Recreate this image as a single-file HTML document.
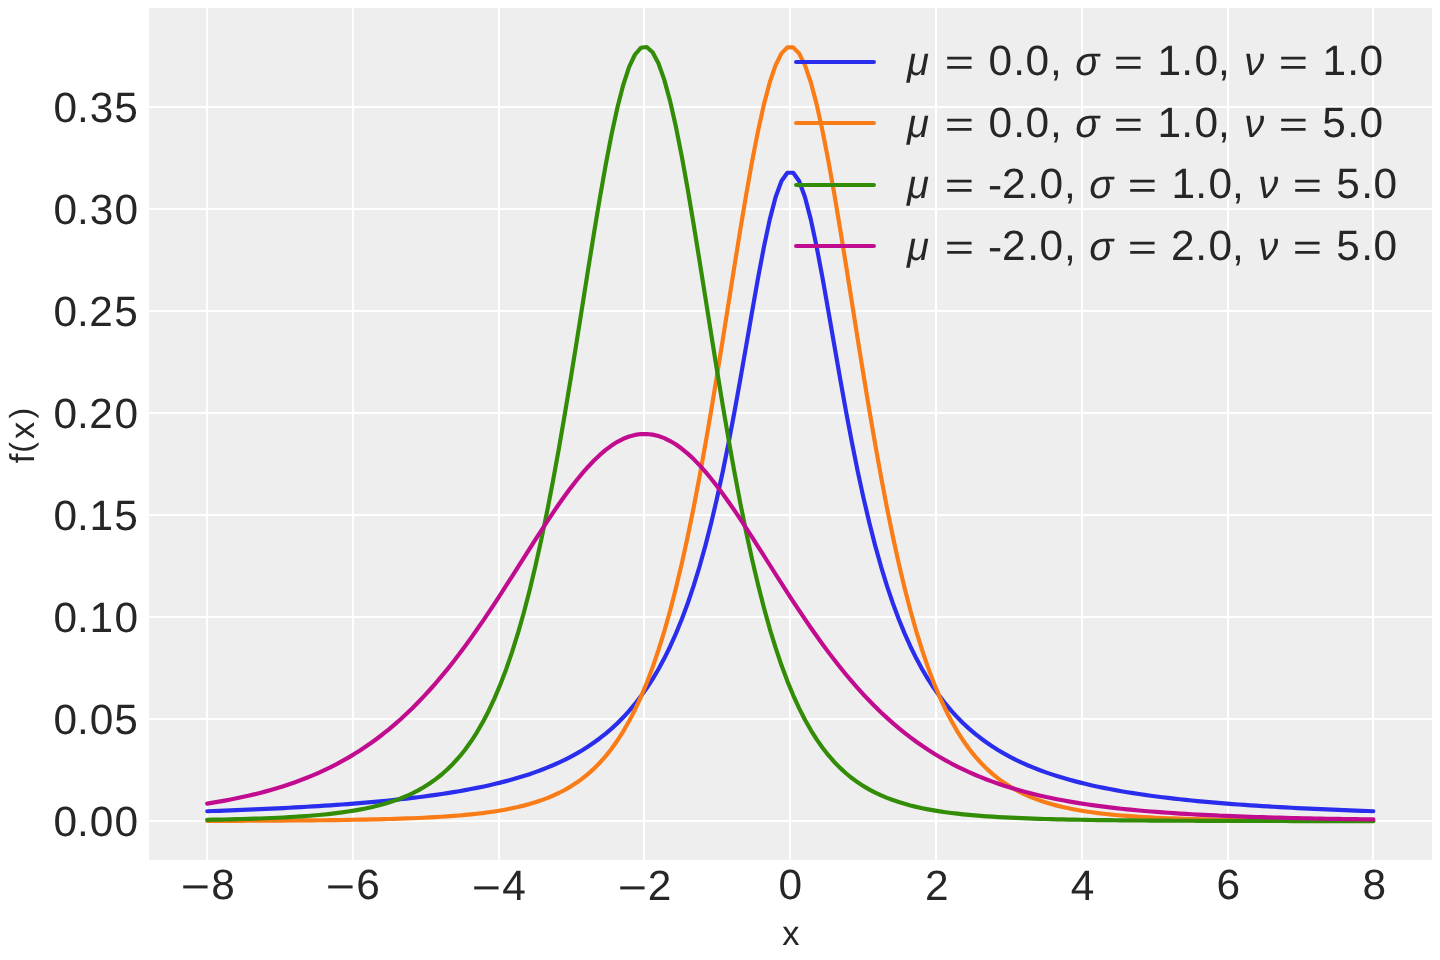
<!DOCTYPE html>
<html><head><meta charset="utf-8"><title>Student-t distribution PDFs</title>
<style>
html,body{margin:0;padding:0;background:#fff;width:1440px;height:960px;overflow:hidden}
svg{display:block;will-change:transform}
text{font-family:"Liberation Sans",sans-serif;fill:#262626;font-kerning:none;text-rendering:geometricPrecision}
</style></head><body>
<svg width="1440" height="960" viewBox="0 0 1440 960">
<rect x="149" y="8" width="1283" height="852" fill="#eeeeee"/>
<g fill="#ffffff"><rect x="206" y="8" width="2" height="852"/><rect x="352" y="8" width="2" height="852"/><rect x="498" y="8" width="2" height="852"/><rect x="643" y="8" width="2" height="852"/><rect x="789" y="8" width="2" height="852"/><rect x="935" y="8" width="2" height="852"/><rect x="1081" y="8" width="2" height="852"/><rect x="1227" y="8" width="2" height="852"/><rect x="1372" y="8" width="2" height="852"/><rect x="149" y="106" width="1283" height="2"/><rect x="149" y="208" width="1283" height="2"/><rect x="149" y="310" width="1283" height="2"/><rect x="149" y="412" width="1283" height="2"/><rect x="149" y="514" width="1283" height="2"/><rect x="149" y="616" width="1283" height="2"/><rect x="149" y="718" width="1283" height="2"/><rect x="149" y="820" width="1283" height="2"/></g>
<g fill="none" stroke-width="4.1667" stroke-linecap="round" stroke-linejoin="round">
<polyline stroke="#2a2eec" points="207.22,811.22 213.08,811.02 218.94,810.81 224.80,810.60 230.66,810.38 236.52,810.15 242.38,809.92 248.24,809.68 254.10,809.43 259.96,809.17 265.82,808.91 271.68,808.63 277.54,808.35 283.40,808.06 289.26,807.75 295.12,807.44 300.98,807.11 306.84,806.78 312.70,806.43 318.56,806.07 324.42,805.69 330.28,805.31 336.14,804.90 342.00,804.49 347.86,804.05 353.72,803.60 359.58,803.13 365.44,802.64 371.30,802.14 377.16,801.61 383.02,801.06 388.88,800.48 394.74,799.88 400.60,799.26 406.46,798.61 412.32,797.93 418.18,797.21 424.04,796.47 429.90,795.69 435.76,794.87 441.62,794.02 447.48,793.12 453.34,792.18 459.20,791.19 465.06,790.15 470.92,789.06 476.78,787.91 482.64,786.70 488.50,785.42 494.36,784.07 500.22,782.64 506.08,781.13 511.94,779.54 517.80,777.85 523.66,776.05 529.52,774.15 535.38,772.13 541.24,769.97 547.10,767.68 552.96,765.24 558.82,762.62 564.68,759.83 570.54,756.84 576.40,753.64 582.26,750.20 588.12,746.51 593.98,742.53 599.84,738.24 605.70,733.61 611.56,728.60 617.42,723.18 623.28,717.30 629.14,710.91 635.00,703.96 640.86,696.39 646.72,688.12 652.58,679.09 658.44,669.19 664.30,658.35 670.16,646.46 676.02,633.39 681.88,619.03 687.74,603.23 693.60,585.88 699.46,566.81 705.32,545.89 711.18,523.01 717.04,498.08 722.90,471.05 728.76,441.98 734.62,411.01 740.48,378.48 746.34,344.90 752.20,311.04 758.06,277.93 763.92,246.88 769.78,219.35 775.64,196.92 781.50,181.01 787.36,172.74 793.22,172.74 799.08,181.01 804.94,196.92 810.80,219.35 816.66,246.88 822.52,277.93 828.38,311.04 834.24,344.90 840.10,378.48 845.96,411.01 851.82,441.98 857.68,471.05 863.54,498.08 869.40,523.01 875.26,545.89 881.12,566.81 886.98,585.88 892.84,603.23 898.70,619.03 904.56,633.39 910.42,646.46 916.28,658.35 922.14,669.19 928.00,679.09 933.86,688.12 939.72,696.39 945.58,703.96 951.44,710.91 957.30,717.30 963.16,723.18 969.02,728.60 974.88,733.61 980.74,738.24 986.60,742.53 992.46,746.51 998.32,750.20 1004.18,753.64 1010.04,756.84 1015.90,759.83 1021.76,762.62 1027.62,765.24 1033.48,767.68 1039.34,769.97 1045.20,772.13 1051.06,774.15 1056.92,776.05 1062.78,777.85 1068.64,779.54 1074.50,781.13 1080.36,782.64 1086.22,784.07 1092.08,785.42 1097.94,786.70 1103.80,787.91 1109.66,789.06 1115.52,790.15 1121.38,791.19 1127.24,792.18 1133.10,793.12 1138.96,794.02 1144.82,794.87 1150.68,795.69 1156.54,796.47 1162.40,797.21 1168.26,797.93 1174.12,798.61 1179.98,799.26 1185.84,799.88 1191.70,800.48 1197.56,801.06 1203.42,801.61 1209.28,802.14 1215.14,802.64 1221.00,803.13 1226.86,803.60 1232.72,804.05 1238.58,804.49 1244.44,804.90 1250.30,805.31 1256.16,805.69 1262.02,806.07 1267.88,806.43 1273.74,806.78 1279.60,807.11 1285.46,807.44 1291.32,807.75 1297.18,808.06 1303.04,808.35 1308.90,808.63 1314.76,808.91 1320.62,809.17 1326.48,809.43 1332.34,809.68 1338.20,809.92 1344.06,810.15 1349.92,810.38 1355.78,810.60 1361.64,810.81 1367.50,811.02 1373.36,811.22"/>
<polyline stroke="#fa7c17" points="207.22,820.92 213.08,820.90 218.94,820.88 224.80,820.86 230.66,820.84 236.52,820.82 242.38,820.80 248.24,820.77 254.10,820.74 259.96,820.71 265.82,820.68 271.68,820.65 277.54,820.61 283.40,820.57 289.26,820.53 295.12,820.49 300.98,820.44 306.84,820.39 312.70,820.33 318.56,820.27 324.42,820.21 330.28,820.14 336.14,820.06 342.00,819.98 347.86,819.89 353.72,819.79 359.58,819.69 365.44,819.58 371.30,819.45 377.16,819.32 383.02,819.17 388.88,819.02 394.74,818.84 400.60,818.66 406.46,818.45 412.32,818.23 418.18,817.98 424.04,817.71 429.90,817.42 435.76,817.10 441.62,816.75 447.48,816.36 453.34,815.93 459.20,815.47 465.06,814.95 470.92,814.38 476.78,813.75 482.64,813.06 488.50,812.30 494.36,811.45 500.22,810.51 506.08,809.48 511.94,808.32 517.80,807.05 523.66,805.63 529.52,804.05 535.38,802.29 541.24,800.33 547.10,798.15 552.96,795.72 558.82,793.01 564.68,789.98 570.54,786.60 576.40,782.82 582.26,778.60 588.12,773.88 593.98,768.60 599.84,762.70 605.70,756.10 611.56,748.74 617.42,740.50 623.28,731.32 629.14,721.08 635.00,709.68 640.86,697.01 646.72,682.95 652.58,667.38 658.44,650.19 664.30,631.26 670.16,610.50 676.02,587.81 681.88,563.14 687.74,536.46 693.60,507.77 699.46,477.14 705.32,444.69 711.18,410.62 717.04,375.20 722.90,338.80 728.76,301.86 734.62,264.94 740.48,228.66 746.34,193.72 752.20,160.85 758.06,130.83 763.92,104.40 769.78,82.28 775.64,65.09 781.50,53.34 787.36,47.37 793.22,47.37 799.08,53.34 804.94,65.09 810.80,82.28 816.66,104.40 822.52,130.83 828.38,160.85 834.24,193.72 840.10,228.66 845.96,264.94 851.82,301.86 857.68,338.80 863.54,375.20 869.40,410.62 875.26,444.69 881.12,477.14 886.98,507.77 892.84,536.46 898.70,563.14 904.56,587.81 910.42,610.50 916.28,631.26 922.14,650.19 928.00,667.38 933.86,682.95 939.72,697.01 945.58,709.68 951.44,721.08 957.30,731.32 963.16,740.50 969.02,748.74 974.88,756.10 980.74,762.70 986.60,768.60 992.46,773.88 998.32,778.60 1004.18,782.82 1010.04,786.60 1015.90,789.98 1021.76,793.01 1027.62,795.72 1033.48,798.15 1039.34,800.33 1045.20,802.29 1051.06,804.05 1056.92,805.63 1062.78,807.05 1068.64,808.32 1074.50,809.48 1080.36,810.51 1086.22,811.45 1092.08,812.30 1097.94,813.06 1103.80,813.75 1109.66,814.38 1115.52,814.95 1121.38,815.47 1127.24,815.93 1133.10,816.36 1138.96,816.75 1144.82,817.10 1150.68,817.42 1156.54,817.71 1162.40,817.98 1168.26,818.23 1174.12,818.45 1179.98,818.66 1185.84,818.84 1191.70,819.02 1197.56,819.17 1203.42,819.32 1209.28,819.45 1215.14,819.58 1221.00,819.69 1226.86,819.79 1232.72,819.89 1238.58,819.98 1244.44,820.06 1250.30,820.14 1256.16,820.21 1262.02,820.27 1267.88,820.33 1273.74,820.39 1279.60,820.44 1285.46,820.49 1291.32,820.53 1297.18,820.57 1303.04,820.61 1308.90,820.65 1314.76,820.68 1320.62,820.71 1326.48,820.74 1332.34,820.77 1338.20,820.80 1344.06,820.82 1349.92,820.84 1355.78,820.86 1361.64,820.88 1367.50,820.90 1373.36,820.92"/>
<polyline stroke="#328c06" points="207.22,819.81 213.08,819.70 218.94,819.59 224.80,819.47 230.66,819.34 236.52,819.19 242.38,819.04 248.24,818.87 254.10,818.68 259.96,818.48 265.82,818.26 271.68,818.01 277.54,817.75 283.40,817.46 289.26,817.14 295.12,816.79 300.98,816.41 306.84,815.99 312.70,815.53 318.56,815.02 324.42,814.46 330.28,813.84 336.14,813.15 342.00,812.40 347.86,811.56 353.72,810.64 359.58,809.61 365.44,808.47 371.30,807.21 377.16,805.81 383.02,804.25 388.88,802.52 394.74,800.59 400.60,798.44 406.46,796.04 412.32,793.37 418.18,790.38 424.04,787.05 429.90,783.32 435.76,779.16 441.62,774.50 447.48,769.29 453.34,763.47 459.20,756.97 465.06,749.70 470.92,741.58 476.78,732.52 482.64,722.42 488.50,711.18 494.36,698.67 500.22,684.79 506.08,669.41 511.94,652.43 517.80,633.73 523.66,613.20 529.52,590.76 535.38,566.34 541.24,539.91 547.10,511.47 552.96,481.07 558.82,448.84 564.68,414.96 570.54,379.69 576.40,343.39 582.26,306.49 588.12,269.54 593.98,233.14 599.84,197.99 605.70,164.82 611.56,134.40 617.42,107.49 623.28,84.79 629.14,66.95 635.00,54.50 640.86,47.79 646.72,47.04 652.58,52.27 658.44,63.32 664.30,79.85 670.16,101.39 676.02,127.31 681.88,156.93 687.74,189.48 693.60,224.21 699.46,260.36 705.32,297.24 711.18,334.20 717.04,370.70 722.90,406.26 728.76,440.52 734.62,473.18 740.48,504.05 746.34,532.98 752.20,559.92 758.06,584.84 763.92,607.77 769.78,628.77 775.64,647.92 781.50,665.32 787.36,681.09 793.22,695.33 799.08,708.17 804.94,719.72 810.80,730.10 816.66,739.41 822.52,747.76 828.38,755.23 834.24,761.92 840.10,767.90 845.96,773.25 851.82,778.04 857.68,782.32 863.54,786.15 869.40,789.58 875.26,792.65 881.12,795.40 886.98,797.87 892.84,800.07 898.70,802.06 904.56,803.84 910.42,805.44 916.28,806.88 922.14,808.17 928.00,809.34 933.86,810.39 939.72,811.34 945.58,812.20 951.44,812.97 957.30,813.67 963.16,814.31 969.02,814.88 974.88,815.40 980.74,815.88 986.60,816.31 992.46,816.70 998.32,817.06 1004.18,817.38 1010.04,817.68 1015.90,817.95 1021.76,818.20 1027.62,818.42 1033.48,818.63 1039.34,818.82 1045.20,819.00 1051.06,819.16 1056.92,819.30 1062.78,819.44 1068.64,819.56 1074.50,819.68 1080.36,819.78 1086.22,819.88 1092.08,819.97 1097.94,820.05 1103.80,820.13 1109.66,820.20 1115.52,820.26 1121.38,820.33 1127.24,820.38 1133.10,820.43 1138.96,820.48 1144.82,820.53 1150.68,820.57 1156.54,820.61 1162.40,820.65 1168.26,820.68 1174.12,820.71 1179.98,820.74 1185.84,820.77 1191.70,820.79 1197.56,820.82 1203.42,820.84 1209.28,820.86 1215.14,820.88 1221.00,820.90 1226.86,820.92 1232.72,820.93 1238.58,820.95 1244.44,820.96 1250.30,820.97 1256.16,820.99 1262.02,821.00 1267.88,821.01 1273.74,821.02 1279.60,821.03 1285.46,821.04 1291.32,821.05 1297.18,821.06 1303.04,821.06 1308.90,821.07 1314.76,821.08 1320.62,821.08 1326.48,821.09 1332.34,821.10 1338.20,821.10 1344.06,821.11 1349.92,821.11 1355.78,821.12 1361.64,821.12 1367.50,821.12 1373.36,821.13"/>
<polyline stroke="#c10c90" points="207.22,803.57 213.08,802.63 218.94,801.64 224.80,800.59 230.66,799.48 236.52,798.31 242.38,797.07 248.24,795.76 254.10,794.38 259.96,792.91 265.82,791.37 271.68,789.73 277.54,788.00 283.40,786.17 289.26,784.24 295.12,782.19 300.98,780.04 306.84,777.76 312.70,775.35 318.56,772.81 324.42,770.12 330.28,767.29 336.14,764.31 342.00,761.16 347.86,757.85 353.72,754.36 359.58,750.68 365.44,746.81 371.30,742.75 377.16,738.48 383.02,733.99 388.88,729.29 394.74,724.36 400.60,719.20 406.46,713.80 412.32,708.16 418.18,702.28 424.04,696.14 429.90,689.75 435.76,683.11 441.62,676.22 447.48,669.08 453.34,661.69 459.20,654.06 465.06,646.20 470.92,638.12 476.78,629.82 482.64,621.32 488.50,612.64 494.36,603.80 500.22,594.82 506.08,585.73 511.94,576.55 517.80,567.32 523.66,558.07 529.52,548.83 535.38,539.64 541.24,530.55 547.10,521.60 552.96,512.83 558.82,504.29 564.68,496.03 570.54,488.10 576.40,480.54 582.26,473.39 588.12,466.72 593.98,460.56 599.84,454.95 605.70,449.94 611.56,445.56 617.42,441.84 623.28,438.81 629.14,436.49 635.00,434.90 640.86,434.06 646.72,433.97 652.58,434.62 658.44,436.02 664.30,438.16 670.16,441.01 676.02,444.56 681.88,448.78 687.74,453.64 693.60,459.10 699.46,465.13 705.32,471.68 711.18,478.71 717.04,486.17 722.90,494.02 728.76,502.20 734.62,510.67 740.48,519.39 746.34,528.30 752.20,537.36 758.06,546.52 763.92,555.75 769.78,565.01 775.64,574.25 781.50,583.45 787.36,592.56 793.22,601.57 799.08,610.45 804.94,619.17 810.80,627.71 816.66,636.06 822.52,644.20 828.38,652.12 834.24,659.81 840.10,667.26 845.96,674.46 851.82,681.41 857.68,688.12 863.54,694.57 869.40,700.77 875.26,706.71 881.12,712.42 886.98,717.87 892.84,723.09 898.70,728.08 904.56,732.84 910.42,737.38 916.28,741.70 922.14,745.82 928.00,749.73 933.86,753.45 939.72,756.99 945.58,760.35 951.44,763.54 957.30,766.56 963.16,769.43 969.02,772.15 974.88,774.73 980.74,777.17 986.60,779.48 992.46,781.66 998.32,783.74 1004.18,785.70 1010.04,787.55 1015.90,789.30 1021.76,790.96 1027.62,792.53 1033.48,794.02 1039.34,795.42 1045.20,796.75 1051.06,798.01 1056.92,799.20 1062.78,800.32 1068.64,801.38 1074.50,802.39 1080.36,803.34 1086.22,804.24 1092.08,805.09 1097.94,805.89 1103.80,806.66 1109.66,807.38 1115.52,808.06 1121.38,808.71 1127.24,809.32 1133.10,809.90 1138.96,810.45 1144.82,810.96 1150.68,811.46 1156.54,811.92 1162.40,812.37 1168.26,812.78 1174.12,813.18 1179.98,813.56 1185.84,813.91 1191.70,814.25 1197.56,814.58 1203.42,814.88 1209.28,815.17 1215.14,815.45 1221.00,815.71 1226.86,815.95 1232.72,816.19 1238.58,816.41 1244.44,816.63 1250.30,816.83 1256.16,817.02 1262.02,817.20 1267.88,817.38 1273.74,817.54 1279.60,817.70 1285.46,817.85 1291.32,817.99 1297.18,818.13 1303.04,818.26 1308.90,818.38 1314.76,818.50 1320.62,818.61 1326.48,818.72 1332.34,818.82 1338.20,818.92 1344.06,819.01 1349.92,819.10 1355.78,819.19 1361.64,819.27 1367.50,819.35 1373.36,819.42"/>
</g>
<g fill="none" stroke-width="4.1667" stroke-linecap="round">
<line x1="796.1" y1="62.0" x2="873.9" y2="62.0" stroke="#2a2eec"/>
<line x1="796.1" y1="123.0" x2="873.9" y2="123.0" stroke="#fa7c17"/>
<line x1="796.1" y1="185.0" x2="873.9" y2="185.0" stroke="#328c06"/>
<line x1="796.1" y1="246.0" x2="873.9" y2="246.0" stroke="#c10c90"/>
</g>
<text y="899" font-size="42.4"><tspan x="180.65" y="901" textLength="29.26" lengthAdjust="spacingAndGlyphs">−</tspan><tspan x="211.21" y="899">8</tspan></text>
<text y="899" font-size="42.4"><tspan x="325.65" y="901" textLength="29.26" lengthAdjust="spacingAndGlyphs">−</tspan><tspan x="356.25" y="899">6</tspan></text>
<text y="899" font-size="42.4"><tspan x="471.65" y="902" textLength="29.26" lengthAdjust="spacingAndGlyphs">−</tspan><tspan x="502.25" y="900">4</tspan></text>
<text y="899" font-size="42.4"><tspan x="617.65" y="902" textLength="29.26" lengthAdjust="spacingAndGlyphs">−</tspan><tspan x="647.71" y="900">2</tspan></text>
<text y="899" font-size="42.4"><tspan x="778.52">0</tspan></text>
<text y="899" font-size="42.4"><tspan x="925.08" y="900">2</tspan></text>
<text y="899" font-size="42.4"><tspan x="1070.63" y="900">4</tspan></text>
<text y="899" font-size="42.4"><tspan x="1216.62">6</tspan></text>
<text y="899" font-size="42.4"><tspan x="1362.59">8</tspan></text>
<text y="836" font-size="42.4"><tspan x="53.52 76.98 89.65 114.39">0.00</tspan></text>
<text y="734" font-size="42.4"><tspan x="53.52 76.98 89.65 114.2">0.05</tspan></text>
<text y="632" font-size="42.4"><tspan x="53.52 76.98 89.54 114.52">0.10</tspan></text>
<text y="530" font-size="42.4"><tspan x="53.52 76.98 89.54 114.33">0.15</tspan></text>
<text y="428" font-size="42.4"><tspan x="53.52 76.98 89.21 114.39">0.20</tspan></text>
<text y="326" font-size="42.4"><tspan x="53.52 76.98 89.21 114.2">0.25</tspan></text>
<text y="224" font-size="42.4"><tspan x="53.52 76.98 89.73 114.39">0.30</tspan></text>
<text y="122" font-size="42.4"><tspan x="53.52 76.98 89.73 114.2">0.35</tspan></text>
<text y="945" font-size="34.5"><tspan x="782.18">x</tspan></text>
<text y="75" font-size="42.4"><tspan x="907.03" font-size="40" font-style="italic">μ</tspan> <tspan x="944.69" font-size="37" textLength="29.26" lengthAdjust="spacingAndGlyphs">=</tspan> <tspan x="988.52 1013.23 1025.52 1049.9">0.0,</tspan> <tspan x="1075.36" font-size="40" font-style="italic">σ</tspan> <tspan x="1113.69" font-size="37" textLength="29.26" lengthAdjust="spacingAndGlyphs">=</tspan> <tspan x="1157.41 1181.23 1194.52 1217.9">1.0,</tspan> <tspan x="1244.19" font-size="40" font-style="italic">ν</tspan> <tspan x="1278.69" font-size="37" textLength="29.26" lengthAdjust="spacingAndGlyphs">=</tspan> <tspan x="1322.41 1347.23 1359.52">1.0</tspan></text>
<text y="137" font-size="42.4"><tspan x="907.03" font-size="40" font-style="italic">μ</tspan> <tspan x="944.69" font-size="37" textLength="29.26" lengthAdjust="spacingAndGlyphs">=</tspan> <tspan x="988.52 1013.23 1025.52 1049.9">0.0,</tspan> <tspan x="1075.36" font-size="40" font-style="italic">σ</tspan> <tspan x="1113.69" font-size="37" textLength="29.26" lengthAdjust="spacingAndGlyphs">=</tspan> <tspan x="1157.41 1181.23 1194.52 1217.9">1.0,</tspan> <tspan x="1244.19" font-size="40" font-style="italic">ν</tspan> <tspan x="1278.69" font-size="37" textLength="29.26" lengthAdjust="spacingAndGlyphs">=</tspan> <tspan x="1322.33 1347.23 1359.52">5.0</tspan></text>
<text y="198" font-size="42.4"><tspan x="907.03" y="198" font-size="40" font-style="italic">μ</tspan> <tspan x="944.69" y="198" font-size="37" textLength="29.26" lengthAdjust="spacingAndGlyphs">=</tspan> <tspan x="987.94" y="199">-</tspan><tspan x="1002.08 1027.23 1039.52 1063.9" y="198">2.0,</tspan> <tspan x="1089.36" y="198" font-size="40" font-style="italic">σ</tspan> <tspan x="1127.69" y="198" font-size="37" textLength="29.26" lengthAdjust="spacingAndGlyphs">=</tspan> <tspan x="1171.41 1195.23 1208.52 1231.9" y="198">1.0,</tspan> <tspan x="1258.19" y="198" font-size="40" font-style="italic">ν</tspan> <tspan x="1292.69" y="198" font-size="37" textLength="29.26" lengthAdjust="spacingAndGlyphs">=</tspan> <tspan x="1336.33 1361.23 1373.52" y="198">5.0</tspan></text>
<text y="260" font-size="42.4"><tspan x="907.03" y="260" font-size="40" font-style="italic">μ</tspan> <tspan x="944.69" y="260" font-size="37" textLength="29.26" lengthAdjust="spacingAndGlyphs">=</tspan> <tspan x="987.94" y="261">-</tspan><tspan x="1002.08 1027.23 1039.52 1063.9" y="260">2.0,</tspan> <tspan x="1089.36" y="260" font-size="40" font-style="italic">σ</tspan> <tspan x="1127.69" y="260" font-size="37" textLength="29.26" lengthAdjust="spacingAndGlyphs">=</tspan> <tspan x="1171.08 1195.23 1208.52 1231.9" y="260">2.0,</tspan> <tspan x="1258.19" y="260" font-size="40" font-style="italic">ν</tspan> <tspan x="1292.69" y="260" font-size="37" textLength="29.26" lengthAdjust="spacingAndGlyphs">=</tspan> <tspan x="1336.33 1361.23 1373.52" y="260">5.0</tspan></text>
<text y="34" font-size="34.5" transform="rotate(-90)"><tspan x="-463.36" y="34">f</tspan><tspan x="-452.81" y="31.8" font-size="31.9">(</tspan><tspan x="-439.03" y="34">x</tspan><tspan x="-418.42" y="31.8" font-size="31.9">)</tspan></text>
</svg>
</body></html>
